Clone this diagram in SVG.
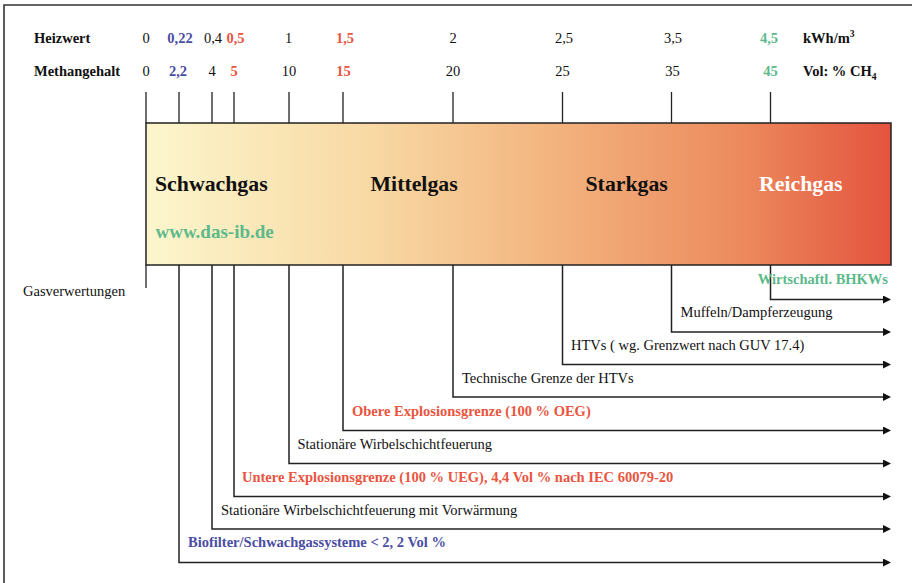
<svg xmlns="http://www.w3.org/2000/svg" width="912" height="583" viewBox="0 0 912 583">
<defs>
  <linearGradient id="gasGrad" x1="0" y1="0" x2="1" y2="0">
    <stop offset="0" stop-color="#FCF6CD"/>
    <stop offset="0.3" stop-color="#F8D9A4"/>
    <stop offset="0.55" stop-color="#F3B37E"/>
    <stop offset="0.8" stop-color="#EC8A5D"/>
    <stop offset="1" stop-color="#E4533E"/>
  </linearGradient>
  <marker id="arrow" markerUnits="userSpaceOnUse" markerWidth="10" markerHeight="10" refX="0" refY="4" orient="auto">
    <path d="M0,0 L8,4 L0,8 Z" fill="#111"/>
  </marker>
  <style>
    text { font-family: "Liberation Serif", "Times New Roman", serif; }
    .hdr { font-size: 14.5px; font-weight: bold; fill: #111; }
    .num { font-size: 14.5px; fill: #111; text-anchor: middle; }
    .gas { font-size: 21.8px; font-weight: bold; fill: #111; }
    .lbl { font-size: 14.5px; fill: #111; }
    .b { font-weight: bold; }
    text.blue { fill: #4B4DA3; font-weight: bold; }
    text.red { fill: #EA5540; font-weight: bold; }
    text.green { fill: #5DB98B; font-weight: bold; }
    text.white { fill: #ffffff; }
    .tick { stroke: #222; stroke-width: 1.3; fill: none; }
    .conn { stroke: #222; stroke-width: 1.5; fill: none; marker-end: url(#arrow); }
  </style>
</defs>

<path d="M4,583 V5 H912" fill="none" stroke="#333" stroke-width="1.6"/>

<g id="scale-heizwert">
  <text class="hdr" x="34" y="43">Heizwert</text>
  <text class="num" x="146" y="43">0</text>
  <text class="num blue" x="180" y="43">0,22</text>
  <text class="num" x="213" y="43">0,4</text>
  <text class="num red" x="235.5" y="43">0,5</text>
  <text class="num" x="288.5" y="43">1</text>
  <text class="num red" x="345" y="43">1,5</text>
  <text class="num" x="453" y="43">2</text>
  <text class="num" x="564" y="43">2,5</text>
  <text class="num" x="673" y="43">3,5</text>
  <text class="num green" x="769" y="43">4,5</text>
  <text class="hdr" x="803" y="43">kWh/m<tspan dy="-6" font-size="9.5px">3</tspan></text>
</g>

<g id="scale-methan">
  <text class="hdr" x="34" y="76">Methangehalt</text>
  <text class="num" x="146" y="76">0</text>
  <text class="num blue" x="178" y="76">2,2</text>
  <text class="num" x="212" y="76">4</text>
  <text class="num red" x="234" y="76">5</text>
  <text class="num" x="289" y="76">10</text>
  <text class="num red" x="343.5" y="76">15</text>
  <text class="num" x="453" y="76">20</text>
  <text class="num" x="562.5" y="76">25</text>
  <text class="num" x="672.5" y="76">35</text>
  <text class="num green" x="770.5" y="76">45</text>
  <text class="hdr" x="803" y="76">Vol: % CH<tspan dy="4" font-size="9.5px">4</tspan></text>
</g>

<g id="ticks">
  <path class="tick" d="M146,92 V123 M179,92 V123 M212,92 V123 M234,92 V123 M289,92 V123 M343,92 V123 M453,92 V123 M562.5,92 V123 M671.5,92 V123 M770.5,92 V123"/>
  <path class="tick" d="M146,265 V288"/>
</g>

<g id="gas-bar">
  <rect x="146" y="123" width="745" height="142" fill="url(#gasGrad)" stroke="#222" stroke-width="1.5"/>
  <text class="gas" x="155" y="191">Schwachgas</text>
  <text class="gas" x="370.5" y="191">Mittelgas</text>
  <text class="gas" x="585.5" y="191">Starkgas</text>
  <text class="gas white" x="759" y="191">Reichgas</text>
  <text class="green" x="155.5" y="238" font-size="19px">www.das-ib.de</text>
</g>

<g id="label-gasverwertungen">
  <text class="lbl" x="23" y="296">Gasverwertungen</text>
</g>

<g id="connectors">
  <path class="conn" d="M770.5,265 V299.5 H883"/>
  <path class="conn" d="M671.5,265 V332 H883"/>
  <path class="conn" d="M562.5,265 V364.5 H883"/>
  <path class="conn" d="M453,265 V397 H883"/>
  <path class="conn" d="M343,265 V430.5 H883"/>
  <path class="conn" d="M289,265 V463.5 H883"/>
  <path class="conn" d="M234,265 V496.5 H883"/>
  <path class="conn" d="M212,265 V529 H883"/>
  <path class="conn" d="M179,265 V562.5 H883"/>
</g>

<g id="use-bhkw"><text class="lbl green" x="888" y="284" text-anchor="end">Wirtschaftl. BHKWs</text></g>
<g id="use-muffeln"><text class="lbl" x="680.5" y="317">Muffeln/Dampferzeugung</text></g>
<g id="use-htv"><text class="lbl" x="571" y="350">HTVs ( wg. Grenzwert nach GUV 17.4)</text></g>
<g id="use-technische"><text class="lbl" x="462" y="383">Technische Grenze der HTVs</text></g>
<g id="use-oeg"><text class="lbl red" x="352" y="416">Obere Explosionsgrenze (100 % OEG)</text></g>
<g id="use-wirbel"><text class="lbl" x="297.5" y="449">Stationäre Wirbelschichtfeuerung</text></g>
<g id="use-ueg"><text class="lbl red" x="242" y="482">Untere Explosionsgrenze (100 % UEG), 4,4 Vol % nach IEC 60079-20</text></g>
<g id="use-wirbel-vorw"><text class="lbl" x="221" y="514.5">Stationäre Wirbelschichtfeuerung mit Vorwärmung</text></g>
<g id="use-biofilter"><text class="lbl blue" x="188" y="547">Biofilter/Schwachgassysteme &lt; 2, 2 Vol %</text></g>
</svg>
